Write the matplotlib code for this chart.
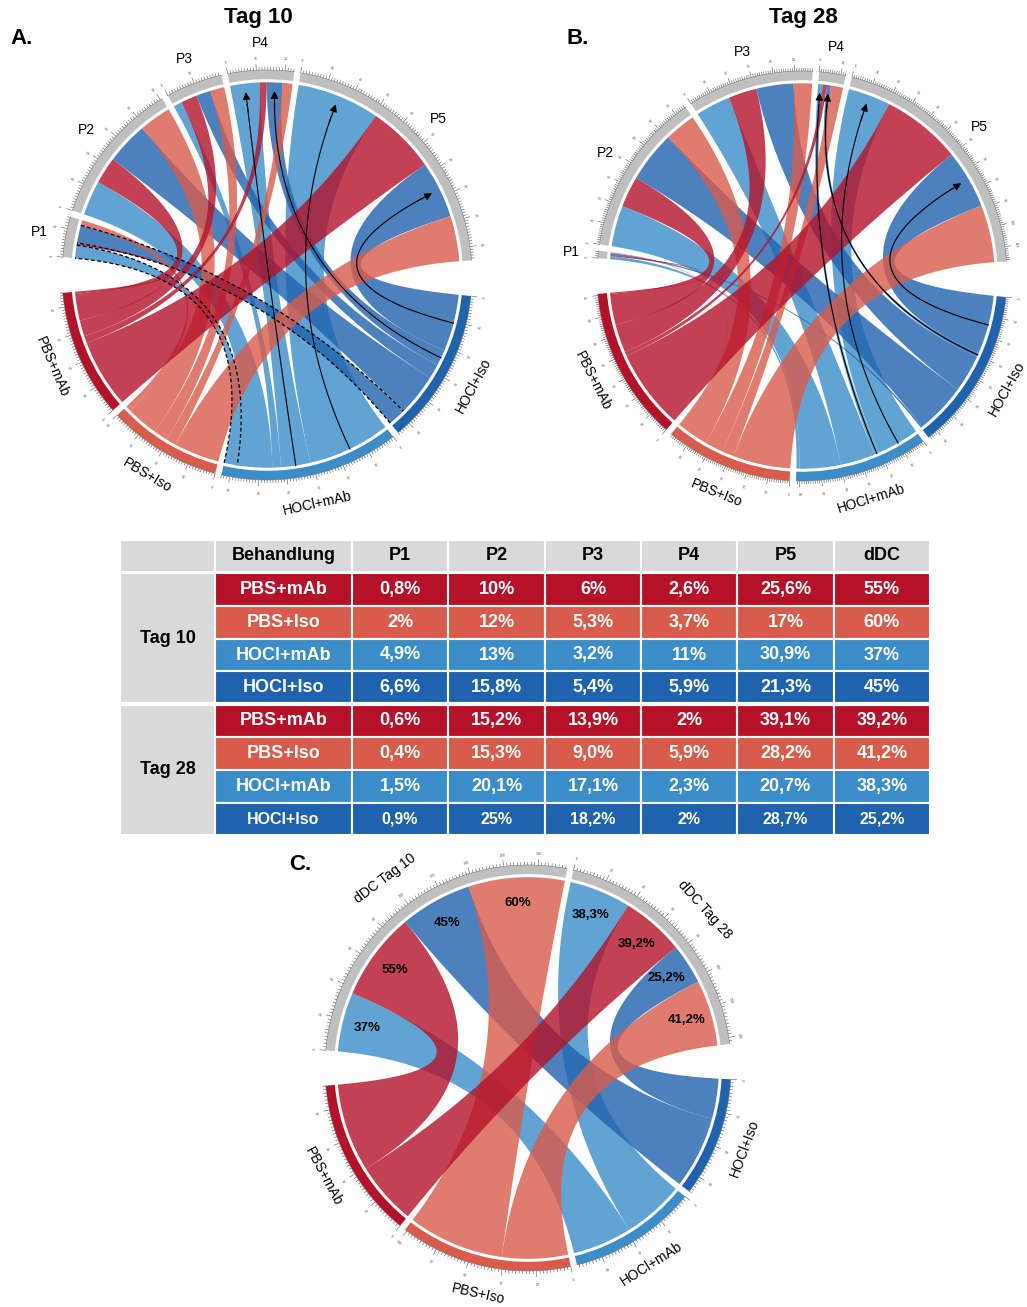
"""
Chord diagrams of P1-P5 / dDC fractions per treatment group (Tag 10, Tag 28)
plus the summary table between them.
"""

import matplotlib
import numpy as np

matplotlib.use("Agg")
import matplotlib.pyplot as plt
from matplotlib.collections import LineCollection
from matplotlib.patches import FancyArrowPatch, Polygon, Rectangle, Wedge

plt.rcParams["font.family"] = ["Liberation Sans", "DejaVu Sans"]

# -- Data ---------------------------------------------------------------------
TREATMENTS = ["PBS+mAb", "PBS+Iso", "HOCl+mAb", "HOCl+Iso"]
POPULATIONS = ["P1", "P2", "P3", "P4", "P5"]
TABLE_HEADER = ["", "Behandlung", "P1", "P2", "P3", "P4", "P5", "dDC"]
DAYS = ["Tag 10", "Tag 28"]

# percent per treatment, columns P1, P2, P3, P4, P5, dDC (decimal comma as printed)
TAG10_PBS_MAB = ["0,8", "10", "6", "2,6", "25,6", "55"]
TAG10_PBS_ISO = ["2", "12", "5,3", "3,7", "17", "60"]
TAG10_HOCL_MAB = ["4,9", "13", "3,2", "11", "30,9", "37"]
TAG10_HOCL_ISO = ["6,6", "15,8", "5,4", "5,9", "21,3", "45"]

TAG28_PBS_MAB = ["0,6", "15,2", "13,9", "2", "39,1", "39,2"]
TAG28_PBS_ISO = ["0,4", "15,3", "9,0", "5,9", "28,2", "41,2"]
TAG28_HOCL_MAB = ["1,5", "20,1", "17,1", "2,3", "20,7", "38,3"]
TAG28_HOCL_ISO = ["0,9", "25", "18,2", "2", "28,7", "25,2"]

TAG10 = dict(zip(TREATMENTS, [TAG10_PBS_MAB, TAG10_PBS_ISO, TAG10_HOCL_MAB, TAG10_HOCL_ISO]))
TAG28 = dict(zip(TREATMENTS, [TAG28_PBS_MAB, TAG28_PBS_ISO, TAG28_HOCL_MAB, TAG28_HOCL_ISO]))

# -- Style --------------------------------------------------------------------
COLORS = {
    "PBS+mAb": "#B5122A",
    "PBS+Iso": "#D95B4B",
    "HOCl+mAb": "#3A8DC8",
    "HOCl+Iso": "#1F62AE",
}
TRACK_GRAY = "#BFBFBF"
TABLE_GRAY = "#D9D9D9"

BOTTOM_ORDER = ["HOCl+Iso", "HOCl+mAb", "PBS+Iso", "PBS+mAb"]   # clockwise
TARGET_SIDE_ORDER = ["HOCl+mAb", "PBS+mAb", "HOCl+Iso", "PBS+Iso"]
DRAW_ORDER = ["HOCl+mAb", "HOCl+Iso", "PBS+Iso", "PBS+mAb"]

W_PX, H_PX = 1027, 1307
R_LINK = 0.94
TRACK_IN, TRACK_OUT = 0.955, 1.0


def num(s):
    return float(s.replace(",", "."))


def polar(r, deg):
    a = np.deg2rad(np.atleast_1d(deg))
    return np.column_stack([r * np.cos(a), r * np.sin(a)])


def bezier(p0, p2, n=80, t_end=1.0):
    # quadratic curve with its control point at the circle centre
    t = np.linspace(0, t_end, n)[:, None]
    return (1 - t) ** 2 * p0 + t ** 2 * p2


def circle_axes(fig, cx, cy, r_px, half=1.32):
    size = half * r_px
    ax = fig.add_axes([(cx - size) / W_PX, 1 - (cy + size) / H_PX,
                       2 * size / W_PX, 2 * size / H_PX])
    ax.set_xlim(-half, half)
    ax.set_ylim(-half, half)
    ax.axis("off")
    return ax


def chord_diagram(ax, top, links, major, minor, top_rotated=False,
                  big_gap=10.0, small_gap=1.8):
    sizes = {t: sum(links[tr][t] for tr in TREATMENTS) for t in top}
    sizes.update({tr: sum(links[tr].values()) for tr in TREATMENTS})
    order = list(top) + BOTTOM_ORDER
    n_small = (len(top) - 1) + (len(BOTTOM_ORDER) - 1)
    scale = (360 - 2 * big_gap - n_small * small_gap) / sum(sizes[k] for k in order)

    spans = {}
    a = 180 - big_gap / 2
    for i, name in enumerate(order):
        span = sizes[name] * scale
        spans[name] = (a, a - span)
        a -= span + (big_gap if i == len(top) - 1 else small_gap)

    # outer track
    for name, (a0, a1) in spans.items():
        color = TRACK_GRAY if name in top else COLORS[name]
        ax.add_patch(Wedge((0, 0), TRACK_OUT, a1, a0, width=TRACK_OUT - TRACK_IN,
                           fc=color, ec="none", zorder=3))
        arc = polar(TRACK_OUT, np.linspace(a0, a1, 60))
        ax.plot(arc[:, 0], arc[:, 1], color="#6E6E6E", lw=0.35, zorder=4)

        segs = []
        step = int(round(major / minor))
        for k in range(int(sizes[name] // minor + 1e-9) + 1):
            ang = a0 - k * minor * scale
            is_major = k % step == 0
            length = 0.03 if is_major else 0.015
            segs.append(np.vstack([polar(TRACK_OUT, ang), polar(TRACK_OUT + length, ang)]))
            if is_major:
                p = polar(TRACK_OUT + 0.055, ang)[0]
                ax.text(p[0], p[1], f"{k * minor:g}", fontsize=2.6, color="#555555",
                        ha="center", va="center", rotation=ang - 90)
        ax.add_collection(LineCollection(segs, colors="#555555", linewidths=0.4, zorder=4))

        mid = (a0 + a1) / 2
        if name in top and not top_rotated:
            p = polar(1.13, mid)[0]
            ax.text(p[0], p[1], name, fontsize=10, ha="center", va="center")
        elif name in top:
            p = polar(1.17, mid)[0]
            ax.text(p[0], p[1], name, fontsize=10, ha="center", va="center",
                    rotation=mid - 90)
        else:
            p = polar(1.14, mid)[0]
            ax.text(p[0], p[1], name, fontsize=10, ha="center", va="center",
                    rotation=mid + 90)

    # link end positions
    geom = {}
    for t in top:
        cur = spans[t][0]
        for tr in TARGET_SIDE_ORDER:
            w = links[tr][t] * scale
            geom.setdefault(tr, {})[t] = [None, (cur, cur - w)]
            cur -= w
    for tr in TREATMENTS:
        cur = spans[tr][0]
        for t in reversed(top):
            w = links[tr][t] * scale
            geom[tr][t][0] = (cur, cur - w)
            cur -= w

    for tr in DRAW_ORDER:
        for t in top:
            (t1, t2), (p1, p2) = geom[tr][t]
            verts = np.vstack([
                polar(R_LINK, np.linspace(t1, t2, 30)),
                bezier(polar(R_LINK, t2)[0], polar(R_LINK, p1)[0]),
                polar(R_LINK, np.linspace(p1, p2, 30)),
                bezier(polar(R_LINK, p2)[0], polar(R_LINK, t1)[0]),
            ])
            ax.add_patch(Polygon(verts, closed=True, fc=COLORS[tr], ec="none",
                                 alpha=0.8, zorder=2))
    return geom


def highlight_arrow(ax, geom, tr, t):
    (t1, t2), (p1, p2) = geom[tr][t]
    pts = bezier(polar(R_LINK, (t1 + t2) / 2)[0], polar(R_LINK, (p1 + p2) / 2)[0],
                 n=200, t_end=0.985)
    ax.plot(pts[:-8, 0], pts[:-8, 1], color="black", lw=0.8, zorder=5)
    ax.add_patch(FancyArrowPatch(tuple(pts[-14]), tuple(pts[-1]), arrowstyle="-|>",
                                 mutation_scale=11, color="black", lw=0.8, zorder=5))


def dashed_outline(ax, geom, tr, t):
    (t1, t2), (p1, p2) = geom[tr][t]
    for a, b in [(t2, p1), (p2, t1)]:
        pts = bezier(polar(R_LINK, a)[0], polar(R_LINK, b)[0])
        ax.plot(pts[:, 0], pts[:, 1], color="black", lw=0.9, ls=(0, (3, 2)), zorder=5)


fig = plt.figure(figsize=(W_PX / 100, H_PX / 100), dpi=100)

# -- A / B: treatment -> P1..P5 -----------------------------------------------
for day, values, (cx, cy), title_x, letter, lx in [
    ("Tag 10", TAG10, (267, 275), 258, "A.", 22),
    ("Tag 28", TAG28, (802, 276), 803, "B.", 578),
]:
    links = {tr: {p: num(values[tr][i]) for i, p in enumerate(POPULATIONS)} for tr in TREATMENTS}
    ax = circle_axes(fig, cx, cy, 205)
    geom = chord_diagram(ax, POPULATIONS, links, major=10, minor=1)
    for tr, t in [("HOCl+mAb", "P4"), ("HOCl+Iso", "P4"),
                  ("HOCl+mAb", "P5"), ("HOCl+Iso", "P5")]:
        highlight_arrow(ax, geom, tr, t)
    if day == "Tag 10":
        dashed_outline(ax, geom, "HOCl+mAb", "P1")
        dashed_outline(ax, geom, "HOCl+Iso", "P1")
    fig.text(title_x / W_PX, 1 - 18 / H_PX, day, fontsize=16, fontweight="bold",
             ha="center", va="center")
    fig.text(lx / W_PX, 1 - 38 / H_PX, letter, fontsize=16, fontweight="bold",
             ha="center", va="center")

# -- C: treatment -> dDC Tag 10 / dDC Tag 28 ----------------------------------
DDC_SECTORS = ["dDC Tag 10", "dDC Tag 28"]
links_c = {tr: {DDC_SECTORS[0]: num(TAG10[tr][5]), DDC_SECTORS[1]: num(TAG28[tr][5])}
           for tr in TREATMENTS}
ax_c = circle_axes(fig, 528, 1068, 203)
geom_c = chord_diagram(ax_c, DDC_SECTORS, links_c, major=20, minor=2, top_rotated=True)
for tr in TREATMENTS:
    for sector, values in zip(DDC_SECTORS, [TAG10, TAG28]):
        p1, p2 = geom_c[tr][sector][1]
        p = polar(0.815, (p1 + p2) / 2)[0]
        ax_c.text(p[0], p[1], values[tr][5] + "%", fontsize=9.5, fontweight="bold",
                  ha="center", va="center", zorder=6)
fig.text(300 / W_PX, 1 - 865 / H_PX, "C.", fontsize=16, fontweight="bold",
         ha="center", va="center")

# -- Table --------------------------------------------------------------------
tab = fig.add_axes([0, 0, 1, 1], zorder=-1)
tab.set_xlim(0, W_PX)
tab.set_ylim(H_PX, 0)
tab.axis("off")

col_edges = [120, 215, 352, 448, 545, 641, 737, 834, 930]
header_y = (540, 572)
row_top, row_h = 573, 32.8

for j in range(len(TABLE_HEADER)):
    x0, x1 = col_edges[j], col_edges[j + 1]
    tab.add_patch(Rectangle((x0, header_y[0]), x1 - x0, header_y[1] - header_y[0],
                            fc=TABLE_GRAY, ec="white", lw=1.5))
    tab.text((x0 + x1) / 2, sum(header_y) / 2, TABLE_HEADER[j], fontsize=13,
             fontweight="bold", ha="center", va="center")

for g, (day, values) in enumerate(zip(DAYS, [TAG10, TAG28])):
    y0 = row_top + g * 4 * row_h
    tab.add_patch(Rectangle((col_edges[0], y0), col_edges[1] - col_edges[0], 4 * row_h,
                            fc=TABLE_GRAY, ec="white", lw=1.5))
    tab.text((col_edges[0] + col_edges[1]) / 2, y0 + 2 * row_h, day, fontsize=13,
             fontweight="bold", ha="center", va="center")
    for i, tr in enumerate(TREATMENTS):
        ry = y0 + i * row_h
        fs = 11.5 if (g == 1 and i == 3) else 13
        cells = [tr] + [v + "%" for v in values[tr]]
        for j, txt in enumerate(cells):
            x0, x1 = col_edges[j + 1], col_edges[j + 2]
            tab.add_patch(Rectangle((x0, ry), x1 - x0, row_h, fc=COLORS[tr],
                                    ec="white", lw=1.5))
            tab.text((x0 + x1) / 2, ry + row_h / 2, txt, fontsize=fs, fontweight="bold",
                     color="white", ha="center", va="center")
tab.plot([col_edges[0], col_edges[-1]], [row_top + 4 * row_h] * 2, color="white", lw=3)

fig.savefig("out.png", dpi=100)
